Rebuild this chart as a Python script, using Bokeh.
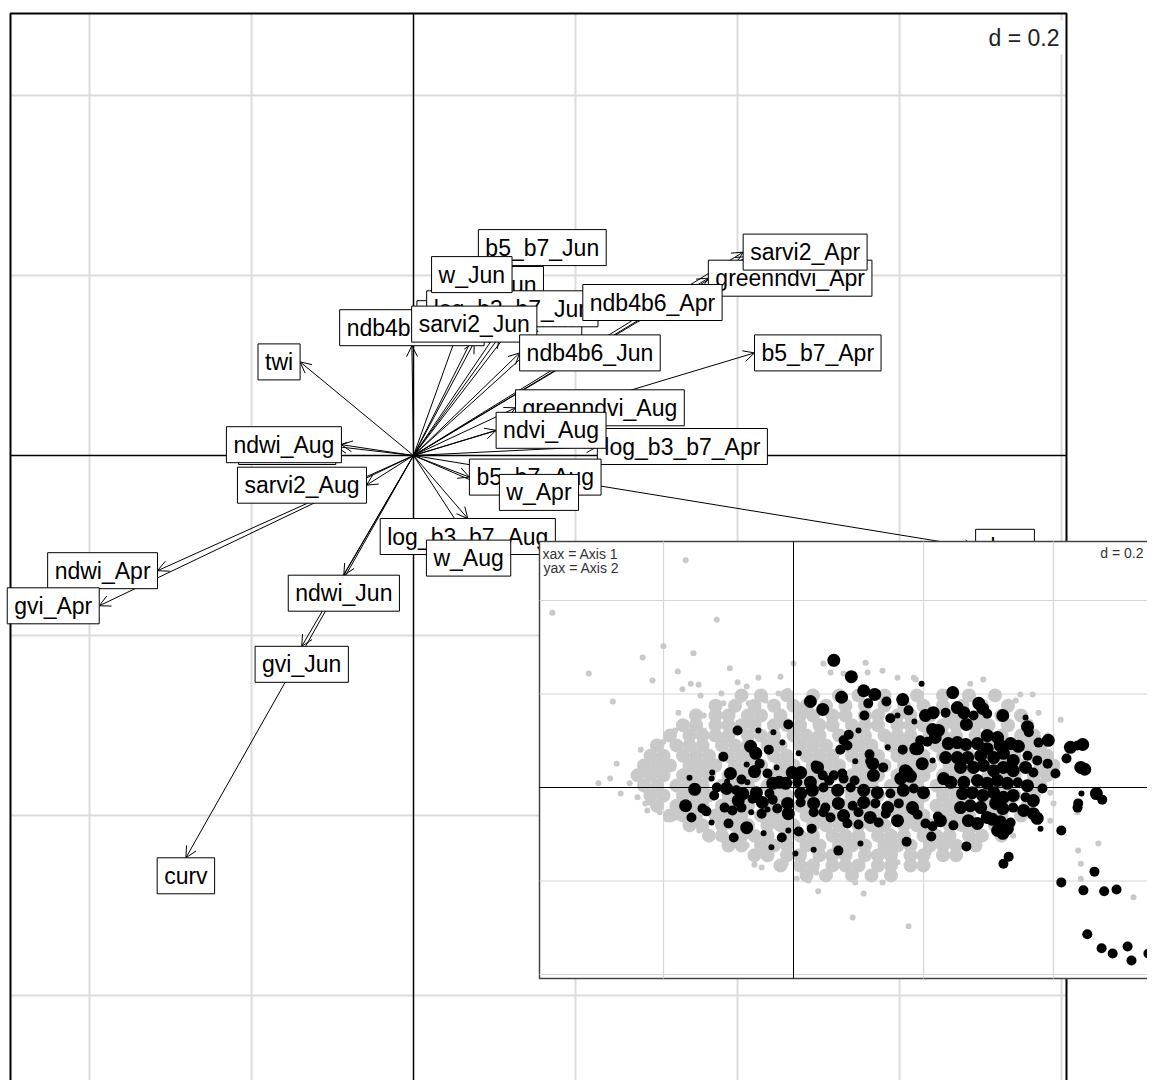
from bokeh.plotting import figure
from bokeh.models import Range1d, ColumnDataSource, Arrow, OpenHead
from bokeh.core.properties import value
from bokeh.embed import file_html
from bokeh.resources import INLINE

# ------------------------------------------------------------------
# DATA
# ------------------------------------------------------------------
# Main panel: variable coordinates on Axis 1 / Axis 2 (drawing order)
var_names = [
    "b5_b7_Jun", "ndvi_Jun", "greenndvi_Jun", "log_b3_b7_Jun", "ndb4b6_Aug", "w_Jun", "sarvi2_Jun",
    "gvi_Aug", "twi", "ndwi_Aug", "sarvi2_Aug", "ndwi_Apr", "gvi_Apr",
    "log_b3_b7_Aug", "w_Aug", "ndwi_Jun", "gvi_Jun", "curv",
    "ndvi_Apr", "greenndvi_Apr", "sarvi2_Apr", "ndb4b6_Apr", "ndb4b6_Jun", "b5_b7_Apr",
    "greenndvi_Aug", "log_b3_b7_Apr", "ndvi_Aug", "b5_b7_Aug", "w_Apr", "dem",
]
var_axis1 = [
    0.159, 0.095, 0.106, 0.122, -0.002, 0.072, 0.075,
    -0.096, -0.140, -0.089, -0.058, -0.316, -0.388,
    0.067, 0.068, -0.086, -0.138, -0.281,
    0.412, 0.364, 0.407, 0.209, 0.131, 0.421,
    0.126, 0.227, 0.102, 0.069, 0.106, 0.694,
]
var_axis2 = [
    0.211, 0.170, 0.132, 0.143, 0.122, 0.181, 0.126,
    0.010, 0.104, 0.012, -0.033, -0.128, -0.167,
    -0.070, -0.094, -0.133, -0.212, -0.447,
    0.221, 0.197, 0.226, 0.170, 0.114, 0.114,
    0.053, 0.010, 0.028, -0.024, -0.041, -0.102,
]
main_grid_step = 0.2
main_d_label = "d = 0.2"

# Inset: row scores on Axis 1 / Axis 2
inset_grid_step = 0.2
inset_d_label = "d = 0.2"
inset_axis_text = ["xax = Axis 1", "yax = Axis 2"]

grey_outliers = [
    (-0.166, 0.486), (-0.371, 0.374), (-0.118, 0.359), (-0.200, 0.302), (-0.232, 0.278), (-0.154, 0.287),
    (-0.315, 0.244), (-0.178, 0.248), (-0.217, 0.229), (-0.098, 0.255), (-0.054, 0.235), (-0.020, 0.237),
    (0.000, 0.265), (-0.278, 0.184), (-0.158, 0.222), (-0.146, 0.220), (-0.086, 0.225), (-0.072, 0.216),
    (-0.171, 0.210), (-0.111, 0.201), (-0.143, 0.197), (-0.082, 0.186), (-0.069, 0.180), (-0.043, 0.186),
    (-0.023, 0.201), (-0.009, 0.207), (-0.108, 0.180), (-0.177, 0.160), (-0.138, 0.154), (-0.125, 0.150),
    (-0.108, 0.154), (-0.094, 0.160), (-0.168, 0.137), (-0.154, 0.137), (-0.200, 0.098), (-0.235, 0.081),
    (-0.182, 0.122), (-0.138, 0.122), (-0.272, 0.051), (-0.282, 0.019), (-0.300, 0.009), (-0.266, -0.013),
    (-0.240, -0.021), (-0.228, -0.034), (-0.225, -0.049), (-0.215, 0.064), (-0.234, 0.047), (-0.211, 0.043),
    (-0.252, 0.009), (-0.222, -0.032), (-0.206, -0.053), (-0.195, -0.068), (-0.180, -0.064), (-0.165, -0.064),
    (-0.145, -0.092), (-0.149, -0.081), (-0.125, -0.103), (-0.103, -0.118), (-0.083, -0.128), (-0.072, -0.124),
    (-0.052, -0.135), (-0.060, -0.165), (-0.049, -0.171), (-0.037, -0.150), (-0.012, -0.163), (0.006, -0.163),
    (0.022, -0.165), (0.005, -0.195), (0.023, -0.199), (0.035, -0.182), (0.038, -0.222), (0.055, -0.152),
    (0.058, -0.160), (0.095, -0.203), (0.091, -0.278), (0.046, 0.265), (0.057, 0.246), (0.077, 0.244),
    (0.111, 0.267), (0.114, 0.246), (0.137, 0.250), (0.160, 0.235), (0.185, 0.235), (0.188, 0.231),
    (0.272, 0.222), (0.292, 0.231), (0.308, 0.197), (0.315, 0.201), (0.349, 0.199), (0.368, 0.199),
    (0.342, 0.186), (0.377, 0.160), (0.411, 0.145), (0.391, 0.111), (0.400, -0.034), (0.437, -0.053),
    (0.395, -0.071), (0.438, -0.135), (0.442, -0.163), (0.200, -0.139), (0.208, -0.139), (0.237, -0.113),
    (0.134, -0.173), (0.469, -0.120), (0.442, -0.195), (0.523, -0.235), (0.177, -0.297), (0.108, -0.227),
    (0.137, -0.203), (0.146, -0.175), (0.160, -0.160), (0.338, -0.103), (0.372, -0.071), (0.391, 0.026),
    (0.395, -0.011),
]

# dense grey cloud, read row by row: (Axis 2, [Axis 1 values])
grey_core_rows = [
    (0.197, [-0.08, -0.05, -0.01, 0.03, 0.07, 0.10, 0.14, 0.19, 0.23, 0.27, 0.31]),
    (0.175, [-0.12, -0.09, -0.06, -0.03, 0.00, 0.02, 0.05, 0.08, 0.11, 0.14, 0.17, 0.20, 0.23, 0.26, 0.29, 0.33]),
    (0.154, [-0.15, -0.12, -0.10, -0.07, -0.05, -0.02, 0.01, 0.03, 0.06, 0.08, 0.11, 0.13, 0.16, 0.18, 0.21,
             0.24, 0.26, 0.29, 0.32, 0.35]),
    (0.133, [-0.17, -0.15, -0.12, -0.10, -0.08, -0.06, -0.03, -0.01, 0.01, 0.04, 0.06, 0.09, 0.11, 0.13, 0.16,
             0.18, 0.20, 0.23, 0.25, 0.28, 0.30, 0.33, 0.36]),
    (0.111, [-0.19, -0.16, -0.14, -0.12, -0.10, -0.07, -0.05, -0.03, 0.00, 0.02, 0.04, 0.07, 0.09, 0.11, 0.14,
             0.16, 0.18, 0.21, 0.23, 0.25, 0.28, 0.30, 0.32, 0.35, 0.37]),
    (0.090, [-0.21, -0.18, -0.16, -0.14, -0.11, -0.09, -0.07, -0.04, -0.02, 0.01, 0.03, 0.05, 0.08, 0.10, 0.12,
             0.15, 0.17, 0.19, 0.22, 0.24, 0.26, 0.29, 0.31, 0.33, 0.36, 0.38]),
    (0.068, [-0.22, -0.20, -0.17, -0.15, -0.13, -0.10, -0.08, -0.06, -0.03, -0.01, 0.02, 0.04, 0.06, 0.09, 0.11,
             0.13, 0.16, 0.18, 0.20, 0.23, 0.25, 0.27, 0.30, 0.32, 0.34, 0.37, 0.39]),
    (0.047, [-0.23, -0.21, -0.19, -0.16, -0.14, -0.12, -0.09, -0.07, -0.05, -0.02, 0.00, 0.03, 0.05, 0.07, 0.10,
             0.12, 0.14, 0.17, 0.19, 0.21, 0.24, 0.26, 0.28, 0.31, 0.33, 0.35, 0.38, 0.40]),
    (0.026, [-0.24, -0.22, -0.20, -0.17, -0.15, -0.13, -0.10, -0.08, -0.06, -0.03, -0.01, 0.02, 0.04, 0.06, 0.09,
             0.11, 0.13, 0.16, 0.18, 0.20, 0.23, 0.25, 0.27, 0.30, 0.32, 0.34, 0.37, 0.39]),
    (0.004, [-0.23, -0.21, -0.18, -0.16, -0.14, -0.11, -0.09, -0.07, -0.04, -0.02, 0.01, 0.03, 0.05, 0.08, 0.10,
             0.12, 0.15, 0.17, 0.19, 0.22, 0.24, 0.26, 0.29, 0.31, 0.33, 0.36, 0.38]),
    (-0.017, [-0.22, -0.20, -0.17, -0.15, -0.13, -0.10, -0.08, -0.06, -0.03, -0.01, 0.02, 0.04, 0.06, 0.09, 0.11,
              0.13, 0.16, 0.18, 0.20, 0.23, 0.25, 0.27, 0.30, 0.32, 0.34, 0.37]),
    (-0.039, [-0.21, -0.18, -0.16, -0.14, -0.11, -0.09, -0.07, -0.04, -0.02, 0.01, 0.03, 0.05, 0.08, 0.10, 0.12,
              0.15, 0.17, 0.19, 0.22, 0.24, 0.26, 0.29, 0.31, 0.33, 0.36]),
    (-0.060, [-0.19, -0.17, -0.15, -0.12, -0.10, -0.08, -0.05, -0.03, -0.01, 0.02, 0.04, 0.06, 0.09, 0.11, 0.13,
              0.16, 0.18, 0.20, 0.23, 0.25, 0.27, 0.30, 0.32, 0.35]),
    (-0.081, [-0.16, -0.14, -0.11, -0.09, -0.07, -0.04, -0.02, 0.00, 0.03, 0.05, 0.07, 0.10, 0.12, 0.14, 0.17,
              0.19, 0.21, 0.24, 0.26, 0.28, 0.31, 0.33]),
    (-0.103, [-0.13, -0.11, -0.08, -0.06, -0.04, -0.01, 0.01, 0.03, 0.06, 0.08, 0.10, 0.13, 0.15, 0.17, 0.20,
              0.22, 0.24, 0.27, 0.29, 0.32]),
    (-0.124, [-0.10, -0.08, -0.05, -0.03, -0.01, 0.02, 0.04, 0.07, 0.09, 0.11, 0.14, 0.16, 0.18, 0.21, 0.23,
              0.25, 0.28]),
    (-0.145, [-0.06, -0.04, -0.01, 0.01, 0.04, 0.06, 0.08, 0.11, 0.13, 0.15, 0.18, 0.20, 0.23, 0.25]),
    (-0.167, [-0.02, 0.01, 0.03, 0.06, 0.08, 0.10, 0.13, 0.15, 0.18, 0.20]),
    (-0.188, [0.02, 0.05, 0.09, 0.12, 0.15]),
]

# black points (Axis 1, Axis 2, weight class 1-3)
black_outer = [
    (0.062, 0.272, 3), (0.089, 0.237, 3), (0.108, 0.207, 3), (0.125, 0.199, 3), (0.074, 0.193, 3), (0.143, 0.184, 2),
    (0.168, 0.188, 3), (0.026, 0.184, 3), (0.045, 0.167, 3), (0.115, 0.180, 2), (0.109, 0.154, 2), (0.149, 0.148, 2),
    (0.160, 0.154, 1), (0.177, 0.165, 2), (0.197, 0.222, 1), (0.203, 0.154, 3), (0.215, 0.160, 3), (0.234, 0.160, 2),
    (0.245, 0.203, 3), (0.252, 0.171, 3), (0.262, 0.160, 3), (0.285, 0.180, 3), (0.291, 0.169, 3), (0.277, 0.154, 2),
    (0.298, 0.158, 2), (0.322, 0.154, 3), (0.357, 0.150, 1), (0.360, 0.130, 3), (0.362, 0.118, 2), (0.377, 0.096, 2),
    (0.392, 0.101, 3), (0.426, 0.086, 3), (0.437, 0.090, 2), (0.445, 0.092, 3), (0.420, 0.062, 2), (0.442, 0.043, 3),
    (0.448, 0.039, 3), (0.403, 0.030, 2), (0.383, -0.002, 2), (0.443, -0.013, 1), (0.466, -0.013, 3), (0.475, -0.026, 2),
    (0.438, -0.034, 2), (0.437, -0.043, 2), (0.412, -0.092, 2), (0.380, -0.088, 1), (0.331, -0.148, 2), (0.323, -0.163, 2),
    (0.266, -0.126, 2), (0.463, -0.180, 2), (0.412, -0.203, 2), (0.446, -0.220, 2), (0.478, -0.222, 2), (0.497, -0.218, 2),
    (0.452, -0.314, 2), (0.474, -0.344, 2), (0.491, -0.355, 2), (0.514, -0.340, 2), (0.520, -0.370, 2), (0.546, -0.355, 2),
]
black_right = [
    (0.186, 0.141, 1), (0.214, 0.124, 3), (0.223, 0.122, 3), (0.218, 0.107, 3), (0.266, 0.135, 3), (0.298, 0.111, 3),
    (0.314, 0.107, 3), (0.195, 0.101, 2), (0.206, 0.098, 2), (0.191, 0.083, 3), (0.238, 0.094, 3), (0.252, 0.096, 3),
    (0.265, 0.092, 3), (0.283, 0.094, 3), (0.298, 0.083, 3), (0.318, 0.090, 3), (0.334, 0.094, 3), (0.346, 0.088, 3),
    (0.234, 0.064, 3), (0.252, 0.064, 3), (0.268, 0.064, 3), (0.288, 0.068, 3), (0.308, 0.064, 3), (0.323, 0.073, 3),
    (0.338, 0.058, 3), (0.360, 0.068, 2), (0.375, 0.058, 2), (0.391, 0.051, 2), (0.257, 0.043, 3), (0.277, 0.043, 3),
    (0.292, 0.047, 3), (0.308, 0.036, 3), (0.323, 0.043, 3), (0.338, 0.036, 3), (0.357, 0.043, 3), (0.369, 0.032, 2),
    (0.231, 0.019, 3), (0.242, 0.011, 3), (0.262, 0.011, 3), (0.283, 0.015, 3), (0.298, 0.009, 3), (0.314, 0.015, 3),
    (0.329, 0.009, 3), (0.345, 0.011, 2), (0.360, 0.004, 3), (0.260, -0.013, 3), (0.275, -0.011, 3), (0.291, -0.017, 3),
    (0.308, -0.011, 3), (0.323, -0.021, 3), (0.338, -0.017, 3), (0.357, -0.021, 2), (0.369, -0.028, 3), (0.257, -0.043, 3),
    (0.272, -0.039, 3), (0.288, -0.043, 3), (0.311, -0.034, 3), (0.322, -0.045, 3), (0.338, -0.043, 2), (0.354, -0.049, 3),
    (0.369, -0.056, 3), (0.375, -0.066, 3), (0.269, -0.071, 3), (0.283, -0.077, 3), (0.298, -0.064, 3), (0.306, -0.068, 3),
    (0.318, -0.073, 3), (0.334, -0.075, 2), (0.314, -0.092, 3), (0.322, -0.098, 3), (0.329, -0.088, 3), (0.214, -0.083, 2),
    (0.226, -0.071, 3), (0.222, -0.062, 2), (0.203, -0.077, 2), (0.246, -0.081, 2), (0.212, -0.105, 2), (0.174, -0.116, 2),
    (0.185, -0.049, 2), (0.191, -0.058, 2), (0.198, 0.051, 3), (0.214, 0.058, 1), (0.188, 0.083, 3), (0.168, 0.081, 2),
    (0.175, 0.032, 3), (0.180, 0.024, 3), (0.165, 0.019, 3),
]
black_centre = [
    (-0.008, 0.135, 2), (0.100, 0.122, 1), (0.085, 0.113, 2), (0.077, 0.101, 2), (0.083, 0.090, 2), (0.072, 0.081, 2),
    (0.145, 0.086, 1), (0.117, 0.071, 2), (0.095, 0.056, 1), (0.118, 0.056, 2), (0.122, 0.051, 3), (0.138, 0.043, 2),
    (0.123, 0.026, 3), (0.172, 0.036, 3), (0.034, 0.047, 2), (0.037, 0.043, 3), (0.011, 0.032, 3), (-0.002, 0.032, 3),
    (0.045, 0.026, 2), (0.062, 0.026, 2), (0.077, 0.019, 2), (0.026, 0.011, 3), (0.006, 0.011, 2), (-0.012, 0.009, 3),
    (0.055, 0.015, 2), (0.094, 0.015, 2), (0.075, 0.030, 2), (0.011, -0.013, 3), (0.029, -0.006, 3), (0.046, 0.000, 2),
    (0.068, -0.006, 3), (0.088, 0.000, 2), (0.108, -0.006, 3), (0.129, -0.011, 3), (0.149, -0.013, 2), (0.169, -0.006, 3),
    (0.185, -0.002, 2), (0.200, -0.011, 3), (-0.009, -0.034, 3), (0.011, -0.032, 2), (0.031, -0.034, 3), (0.049, -0.043, 2),
    (0.069, -0.034, 3), (0.091, -0.039, 2), (0.108, -0.032, 3), (0.126, -0.034, 2), (0.145, -0.043, 3), (0.162, -0.034, 2),
    (0.183, -0.043, 3), (-0.008, -0.056, 3), (0.031, -0.053, 2), (0.057, -0.064, 2), (0.077, -0.060, 3), (0.100, -0.053, 2),
    (0.118, -0.064, 3), (0.142, -0.056, 2), (0.160, -0.071, 3), (0.008, -0.094, 2), (0.028, -0.088, 2), (0.083, -0.077, 2),
    (0.100, -0.079, 2), (0.131, -0.075, 2), (0.103, -0.120, 1), (0.069, -0.135, 2), (0.031, -0.133, 1), (0.003, -0.141, 1),
    (0.046, -0.053, 2),
]
black_left = [
    (-0.066, 0.088, 3), (-0.058, 0.073, 3), (-0.038, 0.081, 2), (-0.108, 0.066, 2), (-0.017, 0.096, 1), (0.008, 0.073, 1),
    (-0.072, 0.049, 1), (-0.052, 0.051, 2), (-0.060, 0.034, 3), (-0.040, 0.030, 2), (-0.026, 0.043, 1), (-0.097, 0.030, 3),
    (-0.125, 0.032, 1), (-0.126, 0.019, 1), (-0.160, 0.021, 1), (-0.102, 0.013, 1), (-0.032, 0.009, 3), (-0.022, 0.011, 3),
    (-0.071, 0.011, 1), (-0.080, 0.017, 2), (-0.152, -0.004, 3), (-0.118, 0.000, 2), (-0.103, -0.002, 3), (-0.088, -0.006, 2),
    (-0.078, -0.013, 3), (-0.057, -0.011, 3), (-0.037, -0.013, 2), (-0.122, -0.017, 2), (-0.085, -0.028, 3), (-0.063, -0.024, 2),
    (-0.048, -0.032, 3), (-0.032, -0.026, 2), (-0.166, -0.039, 3), (-0.140, -0.045, 2), (-0.134, -0.051, 2), (-0.106, -0.043, 2),
    (-0.094, -0.049, 2), (-0.080, -0.043, 2), (-0.065, -0.053, 1), (-0.049, -0.056, 2), (-0.040, -0.047, 1), (-0.025, -0.045, 2),
    (-0.009, -0.053, 2), (-0.157, -0.064, 2), (-0.126, -0.075, 1), (-0.100, -0.077, 2), (-0.072, -0.086, 3), (-0.046, -0.098, 1),
    (-0.008, -0.092, 1), (-0.092, -0.107, 2), (-0.018, -0.107, 2), (-0.034, -0.128, 1), (-0.086, 0.122, 2), (-0.054, 0.122, 1),
    (-0.031, 0.118, 1),
]

# ------------------------------------------------------------------
# LAYOUT (pixel geometry of the picture)
# ------------------------------------------------------------------
W, H = 1147, 1080
FX, FY = 0, 0
M_OX, M_OY, M_SX, M_SY = 413, 455, 810.0, 900.0      # main panel origin and scale
M_LEFT, M_TOP, M_RIGHT, M_BOTTOM = 10, 13, 1066, 1110
I_OX, I_OY, I_SX, I_SY = 793, 787, 650.0, 467.5      # inset origin and scale
I_LEFT, I_TOP, I_RIGHT, I_BOTTOM = 539, 541, 1180, 978

def mx(px): return (px - M_OX) / M_SX
def my(py): return (M_OY - py) / M_SY
def ix(px): return (px - I_OX) / I_SX
def iy(py): return (I_OY - py) / I_SY

FONT = value("Liberation Sans")

p = figure(width=W, height=H,
           x_range=Range1d(mx(FX), mx(FX + W)), y_range=Range1d(my(FY + H), my(FY)),
           output_backend="svg", toolbar_location=None,
           x_axis_location=None, y_axis_location=None, min_border=0)
p.grid.visible = False
p.outline_line_color = None
p.background_fill_color = "white"
p.border_fill_color = "white"
p.extra_x_ranges = {"ix": Range1d(ix(FX), ix(FX + W))}
p.extra_y_ranges = {"iy": Range1d(iy(FY + H), iy(FY))}

def ticks(lo, hi, step):
    out = []
    for k in range(-20, 21):
        v = round(k * step, 10)
        if k != 0 and lo < v < hi:
            out.append(v)
    return out

# ---- main panel grid, axes, border ----
L, R, T, B = mx(M_LEFT), mx(M_RIGHT), my(M_TOP), my(M_BOTTOM)
gv = ticks(L, R, main_grid_step)
gh = ticks(B, T, main_grid_step)
p.segment(x0=gv, y0=[B] * len(gv), x1=gv, y1=[T] * len(gv), line_color="#dcdcdc", line_width=2, level="underlay")
p.segment(x0=[L] * len(gh), y0=gh, x1=[R] * len(gh), y1=gh, line_color="#dcdcdc", line_width=2, level="underlay")
p.segment(x0=[0, L], y0=[B, 0], x1=[0, R], y1=[T, 0], line_color="black", line_width=1.5, level="underlay")
p.quad(left=[L], right=[R], top=[T], bottom=[B], fill_color=None, line_color="black", line_width=2, level="underlay")

# ---- arrows ----
n = len(var_names)
arrow_src = ColumnDataSource(dict(x0=[0.0] * n, y0=[0.0] * n, x1=var_axis1, y1=var_axis2))
p.add_layout(Arrow(end=OpenHead(size=11, line_width=1, line_color="black"),
                   x_start="x0", y_start="y0", x_end="x1", y_end="y1", source=arrow_src,
                   line_width=1, line_color="black", level="underlay"))

# ---- boxed labels (placed like ade4 scatterutil.eti.circ) ----
def side(x, y):
    if x > y and x > -y:
        return "right"
    if x > y and x <= -y:
        return "down"
    if x <= y and x <= -y:
        return "left"
    return "up"

anchors = {"right": ("left", "middle"), "left": ("right", "middle"),
           "up": ("center", "bottom"), "down": ("center", "top")}
for s in ["up", "left", "down", "right"]:
    idx = [i for i in range(n) if side(var_axis1[i], var_axis2[i]) == s]
    src = ColumnDataSource(dict(x=[var_axis1[i] for i in idx], y=[var_axis2[i] for i in idx],
                                t=[var_names[i] for i in idx]))
    p.text(x="x", y="y", text="t", source=src, text_align=anchors[s][0], text_baseline=anchors[s][1],
           text_font=FONT, text_font_size="23px", text_color="black",
           background_fill_color="white", border_line_color="black", border_line_width=1,
           padding=(7, 5))

p.text(x=[mx(1063)], y=[my(20)], text=[main_d_label], text_align="right", text_baseline="top",
       text_font=FONT, text_font_size="23px", text_color="#222222",
       background_fill_color="white", padding=4)

# ---- inset ----
IR = dict(x_range_name="ix", y_range_name="iy")
iL, iR_, iT, iB = ix(I_LEFT), ix(I_RIGHT), iy(I_TOP), iy(I_BOTTOM)
p.quad(left=[iL], right=[iR_], top=[iT], bottom=[iB], fill_color="white", line_color="#444444", line_width=1.5, **IR)
igv = ticks(iL, iR_, inset_grid_step)
igh = ticks(iB, iT, inset_grid_step)
p.segment(x0=igv, y0=[iB] * len(igv), x1=igv, y1=[iT] * len(igv), line_color="#d6d6d6", line_width=1.2, **IR)
p.segment(x0=[iL] * len(igh), y0=igh, x1=[iR_] * len(igh), y1=igh, line_color="#d6d6d6", line_width=1.2, **IR)

cx, cy = [], []
for yv, xs in grey_core_rows:
    cx.extend(xs)
    cy.extend([yv] * len(xs))
p.scatter(x=cx, y=cy, marker="circle", size=14, fill_color="#c9c9c9", line_color=None, **IR)
p.scatter(x=[a for a, b in grey_outliers], y=[b for a, b in grey_outliers], marker="circle", size=6,
          fill_color="#c9c9c9", line_color=None, **IR)

p.segment(x0=[0, iL], y0=[iB, 0], x1=[0, iR_], y1=[iT, 0], line_color="black", line_width=1, **IR)

size_of = {1: 6, 2: 10, 3: 13}
bpts = black_outer + black_right + black_centre + black_left
p.scatter(x=[a for a, b, c in bpts], y=[b for a, b, c in bpts], size=[size_of[c] for a, b, c in bpts],
          marker="circle", fill_color="black", line_color=None, **IR)

p.text(x=[ix(542), ix(543)], y=[iy(553), iy(567)], text=inset_axis_text, text_align="left",
       text_baseline="alphabetic", text_font=FONT, text_font_size="14px", text_color="#333333", **IR)
p.text(x=[ix(1143)], y=[iy(552)], text=[inset_d_label], text_align="right", text_baseline="alphabetic",
       text_font=FONT, text_font_size="14px", text_color="#333333", **IR)

open("out.html", "w").write(file_html(p, INLINE))
